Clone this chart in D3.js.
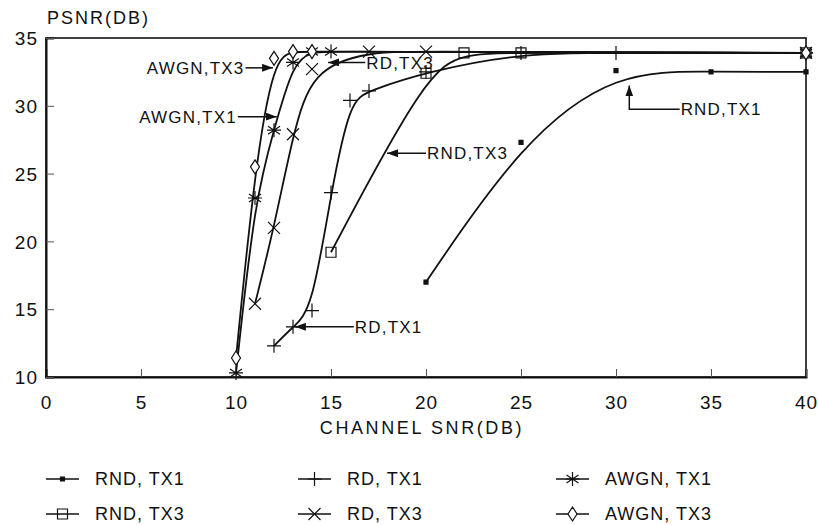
<!DOCTYPE html>
<html>
<head>
<meta charset="utf-8">
<script src="https://d3js.org/d3.v7.min.js"></script>
<style>
body { margin: 0; background: #fff; }
text { font-family: "Liberation Sans", Arial, sans-serif; fill: #111; }
</style>
</head>
<body>
<script>
// tick labels
var xTicks = [0, 5, 10, 15, 20, 25, 30, 35, 40];
var yTicks = [10, 15, 20, 25, 30, 35];

// channel SNR (dB) -> PSNR (dB), one pair of arrays per curve
var rndTx1Snr = [20, 25, 30, 35, 40];
var rndTx1Psnr = [17.0, 27.3, 32.6, 32.5, 32.5];

var rndTx3Snr = [15, 20, 22, 25, 40];
var rndTx3Psnr = [19.2, 32.4, 33.9, 33.9, 33.9];

var rdTx1Snr = [12, 13, 14, 15, 16, 17, 20, 25, 30, 40];
var rdTx1Psnr = [12.3, 13.7, 14.9, 23.6, 30.4, 31.1, 32.5, 33.9, 33.9, 33.9];

var rdTx3Snr = [11, 12, 13, 14, 17, 20, 40];
var rdTx3Psnr = [15.4, 21.0, 27.9, 32.7, 34.0, 34.0, 33.9];

var awgnTx1Snr = [10, 11, 12, 13, 14, 15, 40];
var awgnTx1Psnr = [10.3, 23.2, 28.2, 33.2, 34.0, 34.0, 33.9];

var awgnTx3Snr = [10, 11, 12, 13, 14, 40];
var awgnTx3Psnr = [11.4, 25.5, 33.5, 34.0, 34.0, 33.9];

var seriesNames = ["RND, TX1", "RND, TX3", "RD, TX1", "RD, TX3", "AWGN, TX1", "AWGN, TX3"];
var seriesMarks = ["dot", "square", "plus", "cross", "star", "diamond"];

// in-plot labels with arrows (tip and tail in data units)
var noteLabels = ["AWGN,TX3", "AWGN,TX1", "RD,TX3", "RND,TX3", "RND,TX1", "RD,TX1"];
var noteTips = [[11.95, 32.8], [12.15, 29.2], [14.85, 33.2], [17.95, 26.5], [30.7, 31.5], [13.1, 13.7]];
var noteTails = [[10.5, 32.8], [10.1, 29.2], [16.8, 33.2], [20.0, 26.5], [33.35, 29.75], [16.2, 13.7]];

var series = [
    {name: seriesNames[0], mark: seriesMarks[0], x: rndTx1Snr, y: rndTx1Psnr},
    {name: seriesNames[1], mark: seriesMarks[1], x: rndTx3Snr, y: rndTx3Psnr},
    {name: seriesNames[2], mark: seriesMarks[2], x: rdTx1Snr, y: rdTx1Psnr},
    {name: seriesNames[3], mark: seriesMarks[3], x: rdTx3Snr, y: rdTx3Psnr},
    {name: seriesNames[4], mark: seriesMarks[4], x: awgnTx1Snr, y: awgnTx1Psnr},
    {name: seriesNames[5], mark: seriesMarks[5], x: awgnTx3Snr, y: awgnTx3Psnr}
];

// set the dimensions and margins of the graph
var margin = {top: 38, right: 12, bottom: 148, left: 46},
    width = 818 - margin.left - margin.right,
    height = 525 - margin.top - margin.bottom;

var svg = d3.select("body").append("svg")
    .attr("width", 818)
    .attr("height", 525);

svg.append("defs").append("marker")
    .attr("id", "head")
    .attr("markerUnits", "userSpaceOnUse")
    .attr("viewBox", "0 0 11 8")
    .attr("refX", 11).attr("refY", 4)
    .attr("markerWidth", 11).attr("markerHeight", 8)
    .attr("orient", "auto")
    .append("path")
    .attr("d", "M0,0L11,4L0,8Z")
    .attr("fill", "#111");

var g = svg.append("g")
    .attr("transform", "translate(" + margin.left + "," + margin.top + ")");

var x = d3.scaleLinear().domain([0, 40]).range([0, width]);
var y = d3.scaleLinear().domain([10, 35]).range([height, 0]);

// frame
g.append("rect")
    .attr("width", width).attr("height", height)
    .attr("fill", "none").attr("stroke", "#111").attr("stroke-width", 1.6);

// axes, ticks point inward
var xAxis = g.append("g")
    .attr("transform", "translate(0," + height + ")")
    .call(d3.axisBottom(x).tickValues(xTicks).tickSize(-8).tickPadding(19));
var yAxis = g.append("g")
    .call(d3.axisLeft(y).tickValues(yTicks).tickSize(-8).tickPadding(8));

[xAxis, yAxis].forEach(function (a) {
    a.select(".domain").attr("stroke", "#111").attr("stroke-width", 2);
    a.selectAll(".tick line").attr("stroke", "#555").attr("stroke-width", 1);
    a.selectAll(".tick text")
        .attr("fill", "#111")
        .style("font-family", '"Liberation Sans", Arial, sans-serif')
        .style("font-size", "19px")
        .style("letter-spacing", "1px");
});
yAxis.selectAll(".tick text").attr("dy", "0.35em");

g.append("text")
    .attr("x", x(20) - 4).attr("y", height + 57)
    .attr("text-anchor", "middle")
    .style("font-size", "18px").style("letter-spacing", "2.6px")
    .text("CHANNEL SNR(DB)");

g.append("text")
    .attr("x", 1).attr("y", -14)
    .style("font-size", "18px").style("letter-spacing", "2px")
    .text("PSNR(DB)");

// marker glyphs
function markPath(type) {
    if (type === "dot") return "M-2,-2H2V2H-2Z";
    if (type === "square") return "M-5,-5H5V5H-5Z";
    if (type === "plus") return "M-7,0H7M0,-7V7";
    if (type === "cross") return "M-6,-6L6,6M-6,6L6,-6";
    if (type === "star") return "M0,-7V7M-6,-4L6,4M-6,4L6,-4M-7,0H7";
    return "M0,-7L4.5,0L0,7L-4.5,0Z";
}
function markFill(type) {
    if (type === "dot") return "#111";
    if (type === "diamond") return "#fff";
    return "none";
}

var line = d3.line()
    .x(function (d) { return x(d[0]); })
    .y(function (d) { return y(d[1]); })
    .curve(d3.curveBasis);

series.forEach(function (s) {
    var pts = s.x.map(function (v, i) { return [v, s.y[i]]; });
    g.append("path")
        .datum(pts)
        .attr("d", line)
        .attr("fill", "none")
        .attr("stroke", "#111")
        .attr("stroke-width", 1.8);
    g.selectAll(null)
        .data(pts)
        .enter().append("path")
        .attr("transform", function (d) { return "translate(" + x(d[0]) + "," + y(d[1]) + ")"; })
        .attr("d", markPath(s.mark))
        .attr("fill", markFill(s.mark))
        .attr("stroke", "#111")
        .attr("stroke-width", 1.2);
});

// annotations
noteLabels.forEach(function (label, i) {
    var tip = noteTips[i], tail = noteTails[i];
    var tx = x(tail[0]), ty = y(tail[1]);
    var px = x(tip[0]), py = y(tip[1]);
    var d = "M" + tx + "," + ty + "L" + px + "," + ty;
    if (Math.abs(py - ty) > 0.5) d += "L" + px + "," + py;
    g.append("path")
        .attr("d", d)
        .attr("fill", "none")
        .attr("stroke", "#111")
        .attr("stroke-width", 1.5)
        .attr("marker-end", "url(#head)");
    var toLeft = px < tx;
    g.append("text")
        .attr("x", toLeft ? tx + 1 : tx - 1)
        .attr("y", ty)
        .attr("dy", "0.36em")
        .attr("text-anchor", toLeft ? "start" : "end")
        .style("font-size", "17px").style("letter-spacing", "1.2px")
        .text(label);
});

// legend
var legCols = [0, 252, 510];
var legend = svg.append("g").attr("transform", "translate(46,479)");
series.forEach(function (s, i) {
    var lg = legend.append("g")
        .attr("transform", "translate(" + legCols[Math.floor(i / 2) ] + "," + (i % 2) * 35 + ")");
    lg.append("line")
        .attr("x1", 0).attr("x2", 33)
        .attr("stroke", "#111").attr("stroke-width", 1.6);
    lg.append("path")
        .attr("transform", "translate(16.5,0)")
        .attr("d", markPath(s.mark))
        .attr("fill", markFill(s.mark))
        .attr("stroke", "#111")
        .attr("stroke-width", 1.2);
    lg.append("text")
        .attr("x", 49).attr("dy", "0.36em")
        .style("font-size", "18px").style("letter-spacing", "1px")
        .text(s.name);
});
</script>
</body>
</html>
